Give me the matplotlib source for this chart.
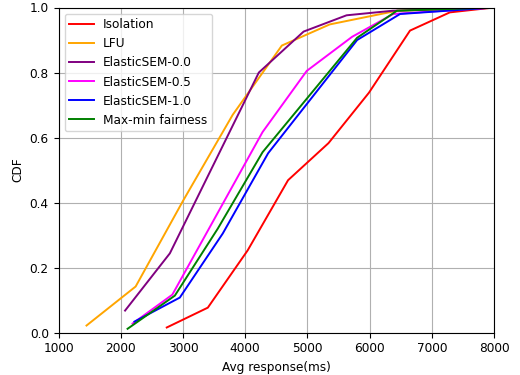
import matplotlib
matplotlib.use("Agg")
import matplotlib.pyplot as plt

plt.rcParams["font.size"] = 8.7

# avg response (ms) vs CDF
iso_x = [2740, 3400, 4040, 4690, 5340, 5990, 6650, 7290, 8000]
iso_y = [0.016, 0.077, 0.253, 0.469, 0.583, 0.738, 0.929, 0.985, 1.0]

lfu_x = [1450, 2240, 3000, 3800, 4590, 5360, 6440, 8000]
lfu_y = [0.022, 0.142, 0.405, 0.67, 0.883, 0.948, 0.99, 1.0]

e00_x = [2070, 2790, 4220, 4940, 5630, 6370, 8000]
e00_y = [0.068, 0.244, 0.80, 0.926, 0.976, 0.99, 1.0]

e05_x = [2190, 2830, 4280, 4990, 5720, 6380, 8000]
e05_y = [0.028, 0.117, 0.617, 0.805, 0.91, 0.98, 1.0]

e10_x = [2220, 2950, 3640, 4370, 5800, 6490, 8000]
e10_y = [0.034, 0.108, 0.305, 0.552, 0.90, 0.98, 1.0]

mmf_x = [2110, 2870, 3560, 4280, 5800, 6440, 8000]
mmf_y = [0.012, 0.114, 0.32, 0.555, 0.907, 0.99, 1.0]

fig = plt.figure(figsize=(5.2, 3.75), dpi=100)
ax = fig.add_axes([0.1125, 0.1128, 0.8375, 0.8672])

lw = 1.4
ax.plot(iso_x, iso_y, color="red", lw=lw, label="Isolation")
ax.plot(lfu_x, lfu_y, color="orange", lw=lw, label="LFU")
ax.plot(e00_x, e00_y, color="purple", lw=lw, label="ElasticSEM-0.0")
ax.plot(e05_x, e05_y, color="magenta", lw=lw, label="ElasticSEM-0.5")
ax.plot(e10_x, e10_y, color="blue", lw=lw, label="ElasticSEM-1.0")
ax.plot(mmf_x, mmf_y, color="green", lw=lw, label="Max-min fairness")

ax.set_xlim(1000, 8000)
ax.set_ylim(0, 1.0)
ax.set_xlabel("Avg response(ms)")
ax.set_ylabel("CDF")
ax.grid(True)
ax.legend(loc="upper left")

fig.savefig("out.png", dpi=100)
